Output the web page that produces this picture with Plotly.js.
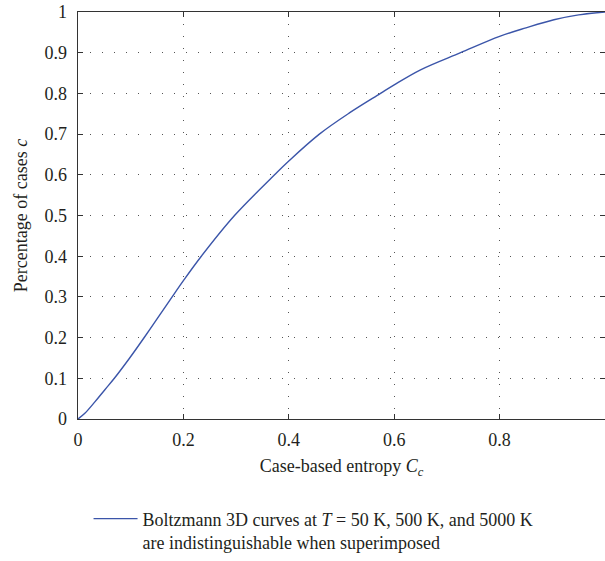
<!DOCTYPE html>
<html>
<head>
<meta charset="utf-8">
<script src="https://cdn.plot.ly/plotly-3.0.1.min.js"></script>
<style>html,body{margin:0;padding:0;background:#fff;}#chart{width:605px;height:561px;}</style>
</head>
<body>
<div id="chart"></div>
<script>
// Case-based entropy C_c (x) vs percentage of cases c (y)
const entropyCc = [0, 0.013, 0.032, 0.051, 0.069, 0.097, 0.125, 0.15, 0.178, 0.2, 0.234, 0.297, 0.373, 0.4, 0.458, 0.515, 0.574, 0.6, 0.65, 0.726, 0.8, 0.85, 0.903, 0.95, 1.0];
const percentCases = [0, 0.014, 0.042, 0.072, 0.1, 0.148, 0.199, 0.246, 0.299, 0.34, 0.4, 0.5, 0.6, 0.634, 0.7, 0.752, 0.8, 0.821, 0.858, 0.9, 0.94, 0.961, 0.981, 0.993, 1.0];
const xTicks = [0, 0.2, 0.4, 0.6, 0.8, 1];
const yTicks = [0, 0.1, 0.2, 0.3, 0.4, 0.5, 0.6, 0.7, 0.8, 0.9, 1];
const seriesName = 'Boltzmann 3D curves at <i>T</i> = 50 K, 500 K, and 5000 K<br>are indistinguishable when superimposed';

const fontFam = 'Liberation Serif';
const txt = '#231f20';
const axisCommon = {
  showline: true, linecolor: '#333', linewidth: 1.3, mirror: 'ticks',
  ticks: 'inside', ticklen: 5, tickwidth: 1, tickcolor: '#333',
  showgrid: true, gridcolor: '#555', gridwidth: 1, griddash: '1px,11px',
  zeroline: false, tickmode: 'array',
  tickfont: {family: fontFam, size: 18, color: txt}
};

Plotly.newPlot('chart', [{
  x: entropyCc, y: percentCases, type: 'scatter', mode: 'lines',
  line: {color: '#3b55a9', width: 1.4, shape: 'spline', smoothing: 1},
  name: seriesName, showlegend: true
}], {
  width: 605, height: 561,
  margin: {l: 78, r: 0, t: 12, b: 137},
  paper_bgcolor: '#fff', plot_bgcolor: '#fff',
  font: {family: fontFam, size: 18, color: txt},
  xaxis: Object.assign({}, axisCommon, {
    range: [0, 1], tickvals: xTicks, ticktext: xTicks.map(String),
    ticklabelstandoff: 4,
    title: {text: 'Case-based entropy <i>C</i><sub><i>c</i></sub>', font: {family: fontFam, size: 18, color: txt}, standoff: 10}
  }),
  yaxis: Object.assign({}, axisCommon, {
    range: [0, 1], tickvals: yTicks, ticktext: yTicks.map(String),
    ticklabelstandoff: 6,
    title: {text: 'Percentage of cases <i>c</i>', font: {family: fontFam, size: 18, color: txt}, standoff: 12}
  }),
  showlegend: true,
  legend: {
    x: 0.02, xanchor: 'left', y: -0.2, yanchor: 'top',
    bgcolor: 'rgba(0,0,0,0)', borderwidth: 0, valign: 'top', itemwidth: 44,
    font: {family: fontFam, size: 18, color: txt}
  }
}, {displayModeBar: false, staticPlot: true});
</script>
</body>
</html>
